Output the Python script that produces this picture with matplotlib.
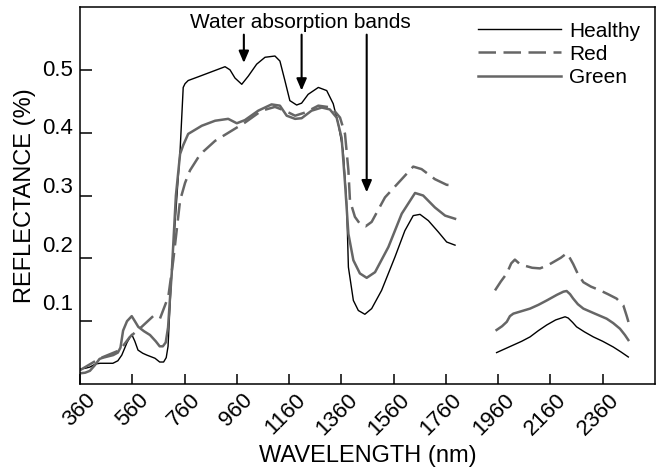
import numpy as np
import matplotlib
matplotlib.use("Agg")
from matplotlib import pyplot as plt
from matplotlib.transforms import ScaledTranslation

plt.rcParams['font.family'] = ['Liberation Sans', 'DejaVu Sans']

# wavelengths (nm) and reflectance, nan = gap between the two measured ranges
healthy_wl = [360, 380, 398, 420, 437, 486, 505, 520, 540, 558, 570, 582, 600, 616, 647,
              665, 680, 690, 697, 705, 714, 743, 755, 762, 774, 813, 864, 915, 934, 953,
              979, 1004, 1036, 1068, 1106, 1125, 1144, 1163, 1189, 1208, 1233, 1272,
              1304, 1329, 1348, 1367, 1380, 1387, 1406, 1425, 1450, 1476, 1514, 1565,
              1603, 1635, 1661, 1693, 1731, 1763, 1795,
              np.nan,
              1954, 1986, 2018, 2050, 2082, 2114, 2146, 2180, 2216, 2228, 2245, 2260,
              2290, 2324, 2360, 2400, 2430, 2458]
healthy_r = [0.024, 0.025, 0.027, 0.032, 0.033, 0.033, 0.037, 0.046, 0.066, 0.079, 0.068,
             0.054, 0.049, 0.046, 0.041, 0.035, 0.035, 0.042, 0.060, 0.130, 0.198, 0.371,
             0.472, 0.478, 0.483, 0.489, 0.497, 0.505, 0.500, 0.487, 0.477, 0.490, 0.509,
             0.520, 0.522, 0.514, 0.483, 0.451, 0.444, 0.447, 0.461, 0.472, 0.467, 0.446,
             0.414, 0.371, 0.290, 0.186, 0.133, 0.117, 0.111, 0.120, 0.149, 0.202, 0.244,
             0.268, 0.270, 0.260, 0.242, 0.226, 0.221,
             np.nan,
             0.050, 0.056, 0.062, 0.068, 0.075, 0.085, 0.094, 0.102, 0.107, 0.105, 0.098,
             0.091, 0.083, 0.075, 0.068, 0.059, 0.051, 0.043]

red_wl = [360, 437, 513, 551, 596, 640, 666, 698, 717, 743, 762, 781, 813, 832, 877,
          940, 991, 1055, 1106, 1144, 1183, 1221, 1272, 1323, 1355, 1374, 1387, 1393,
          1412, 1431, 1453, 1476, 1527, 1591, 1635, 1667, 1718, 1763, 1795,
          np.nan,
          1948, 1970, 1993, 2010, 2024, 2040, 2056, 2090, 2120, 2150, 2171, 2200, 2222,
          2235, 2247, 2265, 2286, 2315, 2350, 2380, 2413, 2439, 2452, 2464]
red_r = [0.022, 0.041, 0.054, 0.075, 0.091, 0.108, 0.104, 0.139, 0.197, 0.292, 0.320,
         0.340, 0.361, 0.370, 0.387, 0.403, 0.416, 0.435, 0.441, 0.435, 0.427, 0.432,
         0.443, 0.440, 0.424, 0.398, 0.340, 0.292, 0.266, 0.255, 0.251, 0.258, 0.297,
         0.326, 0.346, 0.342, 0.326, 0.317, 0.316,
         np.nan,
         0.149, 0.163, 0.176, 0.192, 0.198, 0.192, 0.189, 0.185, 0.184, 0.189, 0.194,
         0.201, 0.208, 0.200, 0.191, 0.175, 0.162, 0.155, 0.149, 0.143, 0.136, 0.125,
         0.108, 0.091]

green_wl = [360, 380, 398, 417, 435, 449, 487, 505, 515, 525, 540, 558, 570, 583, 605,
            628, 650, 665, 677, 688, 697, 705, 711, 727, 743, 755, 774, 826, 877, 927,
            960, 991, 1042, 1093, 1125, 1151, 1183, 1208, 1246, 1285, 1316, 1342, 1361,
            1374, 1387, 1406, 1431, 1457, 1489, 1540, 1591, 1642, 1673, 1718, 1757, 1795,
            np.nan,
            1954, 1975, 1993, 2005, 2018, 2050, 2082, 2114, 2146, 2185, 2210, 2222, 2235,
            2247, 2265, 2286, 2330, 2375, 2400, 2426, 2445, 2458]
green_r = [0.017, 0.018, 0.021, 0.030, 0.040, 0.042, 0.046, 0.050, 0.058, 0.085, 0.100,
           0.108, 0.100, 0.091, 0.084, 0.078, 0.068, 0.060, 0.060, 0.066, 0.090, 0.140,
           0.176, 0.300, 0.366, 0.380, 0.398, 0.411, 0.419, 0.422, 0.415, 0.420, 0.435,
           0.445, 0.443, 0.427, 0.422, 0.423, 0.435, 0.440, 0.437, 0.424, 0.392, 0.320,
           0.239, 0.197, 0.176, 0.169, 0.178, 0.218, 0.271, 0.304, 0.300, 0.281, 0.268,
           0.263,
           np.nan,
           0.086, 0.092, 0.099, 0.108, 0.112, 0.116, 0.120, 0.126, 0.133, 0.142, 0.147,
           0.148, 0.143, 0.136, 0.127, 0.120, 0.112, 0.104, 0.097, 0.088, 0.078, 0.070]

# water absorption arrows: wavelength, reflectance at arrow tip
arrow_wl = [987, 1208, 1457]
arrow_tip = [0.511, 0.467, 0.305]

xticks = [360, 560, 760, 960, 1160, 1360, 1560, 1760, 1960, 2160, 2360]
yticks = [0.1, 0.2, 0.3, 0.4, 0.5]

fig = plt.figure(figsize=(6.62, 4.67), dpi=100)
ax = fig.add_axes([0.1208, 0.1777, 0.8686, 0.8073])

gray = '#666666'
ax.plot(healthy_wl, healthy_r, color='black', lw=1.0, label='Healthy')
ax.plot(red_wl, red_r, color=gray, lw=1.8, dashes=(7, 3), label='Red')
ax.plot(green_wl, green_r, color=gray, lw=1.8, label='Green')

ax.set_xlim(360, 2560)
ax.set_ylim(0, 0.6)
ax.set_xticks(xticks)
ax.set_yticks(yticks)
ax.set_xticklabels([str(t) for t in xticks], rotation=45, ha='right',
                   rotation_mode='anchor', fontsize=16)
ax.set_yticklabels([str(t) for t in yticks], fontsize=16)
ax.tick_params(axis='x', direction='in', length=7, width=1.1, pad=4)
ax.tick_params(axis='y', direction='in', length=8.5, width=1.1, pad=5)
for s in ax.spines.values():
    s.set_linewidth(1.1)

# nudge x labels a bit right, y labels upward like the original
for lab in ax.get_xticklabels():
    lab.set_transform(lab.get_transform() + ScaledTranslation(4/72, 0, fig.dpi_scale_trans))
for v, lab in zip(yticks, ax.get_yticklabels()):
    dy = ((0.5 - v) * 42 + 2) / 100.
    lab.set_transform(lab.get_transform() + ScaledTranslation(0, dy, fig.dpi_scale_trans))

ax.set_xlabel('WAVELENGTH (nm)', fontsize=17, labelpad=4)
ax.set_ylabel('REFLECTANCE (%)', fontsize=17, labelpad=4)

ax.text(1202, 0.575, 'Water absorption bands', fontsize=15, ha='center', va='center')
for wl, tip in zip(arrow_wl, arrow_tip):
    ax.annotate('', xy=(wl, tip), xytext=(wl, 0.556),
                arrowprops=dict(arrowstyle='-|>,head_length=0.7,head_width=0.3',
                                color='black', lw=1.5, shrinkA=0, shrinkB=0))

ax.legend(loc='upper right', frameon=False, fontsize=15, handlelength=4.0,
          handletextpad=0.4, labelspacing=0.2, borderaxespad=0.3,
          bbox_to_anchor=(1.0, 1.0))

plt.savefig('out.png', dpi=100)
